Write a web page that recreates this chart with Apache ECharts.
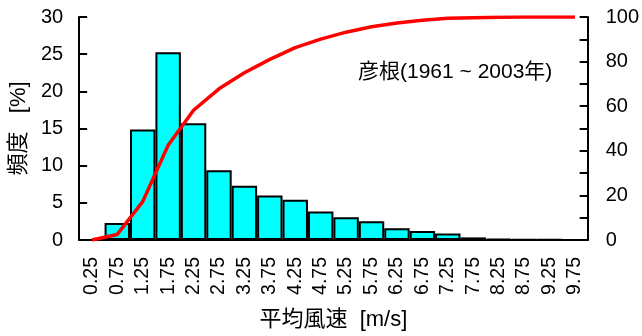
<!DOCTYPE html>
<html>
<head>
<meta charset="utf-8">
<script src="https://cdn.jsdelivr.net/npm/echarts@6/dist/echarts.min.js"></script>
<style>
  html, body { margin: 0; padding: 0; background: #fff; }
  #chart { width: 642px; height: 336px; }
</style>
</head>
<body>
<div id="chart"></div>
<script>
// Wind speed bins (m/s, bin centres)
const speedBins = ['0.25','0.75','1.25','1.75','2.25','2.75','3.25','3.75','4.25','4.75',
                   '5.25','5.75','6.25','6.75','7.25','7.75','8.25','8.75','9.25','9.75'];
// Frequency of each bin [%]
const frequency = [0, 2.3, 14.85, 25.25, 15.7, 9.4, 7.3, 6.0, 5.4, 3.85,
                   3.06, 2.53, 1.57, 1.22, 0.87, 0.35, 0.15, 0.1, 0.05, 0];
// Cumulative frequency [%]
const cumulative = [0, 2.5, 17.2, 42.5, 58.2, 67.8, 75.0, 81.0, 86.3, 90.1,
                    93.2, 95.6, 97.3, 98.5, 99.4, 99.7, 99.85, 99.95, 100, 100];
// Axis tick values
const leftTicks = { min: 0, max: 30, interval: 5 };
const rightTicks = { min: 0, max: 100, interval: 20 };

const FONT = "'Liberation Sans', Arial, 'Noto Sans CJK JP', sans-serif";
const chart = echarts.init(document.getElementById('chart'), null, { renderer: 'canvas' });

chart.setOption({
  animation: false,
  backgroundColor: '#ffffff',
  textStyle: { fontFamily: FONT },
  grid: { left: 77, right: 54, top: 17, bottom: 90, containLabel: false },
  xAxis: {
    type: 'category',
    data: speedBins,
    boundaryGap: true,
    name: '平均風速  [m/s]',
    nameLocation: 'middle',
    nameGap: 69,
    nameTextStyle: { fontSize: 22, color: '#000', fontFamily: FONT },
    axisLine: { lineStyle: { color: '#000', width: 2 } },
    axisTick: { show: false },
    axisLabel: { rotate: 90, fontSize: 19.5, color: '#000', margin: 17, interval: 0, fontFamily: FONT },
    splitLine: { show: false }
  },
  yAxis: [
    {
      type: 'value',
      min: leftTicks.min, max: leftTicks.max, interval: leftTicks.interval,
      name: '頻度   [%]',
      nameLocation: 'middle',
      nameGap: 43,
      nameRotate: 90,
      nameTextStyle: { fontSize: 22, color: '#000', fontFamily: FONT },
      axisLine: { show: true, lineStyle: { color: '#000', width: 2 } },
      axisTick: { show: true, inside: true, length: 8, lineStyle: { color: '#000', width: 2 } },
      axisLabel: { fontSize: 20, color: '#000', margin: 16, fontFamily: FONT },
      splitLine: { show: false }
    },
    {
      type: 'value',
      position: 'right',
      min: rightTicks.min, max: rightTicks.max, interval: rightTicks.interval,
      axisLine: { show: true, lineStyle: { color: '#000', width: 2 } },
      axisTick: { show: true, inside: true, length: 8, lineStyle: { color: '#000', width: 2 } },
      minorTick: { show: true, splitNumber: 2, length: 8, lineStyle: { color: '#000', width: 2 } },
      axisLabel: { fontSize: 20, color: '#000', margin: 18, fontFamily: FONT },
      splitLine: { show: false }
    }
  ],
  graphic: [
    {
      type: 'text',
      left: 358,
      top: 62,
      style: {
        text: '彦根(1961 ~ 2003年)',
        font: "21px 'Liberation Sans', Arial, 'Noto Sans CJK JP', sans-serif",
        fill: '#000'
      },
      z: 10
    }
  ],
  series: [
    {
      name: '頻度',
      type: 'bar',
      data: frequency,
      barCategoryGap: '0%',
      itemStyle: { color: '#00ffff', borderColor: '#000', borderWidth: 2 },
      z: 2
    },
    {
      name: '累積',
      type: 'line',
      yAxisIndex: 1,
      data: cumulative,
      showSymbol: false,
      symbol: 'none',
      lineStyle: { color: '#ff0000', width: 3.5 },
      z: 5
    }
  ]
});
</script>
</body>
</html>
